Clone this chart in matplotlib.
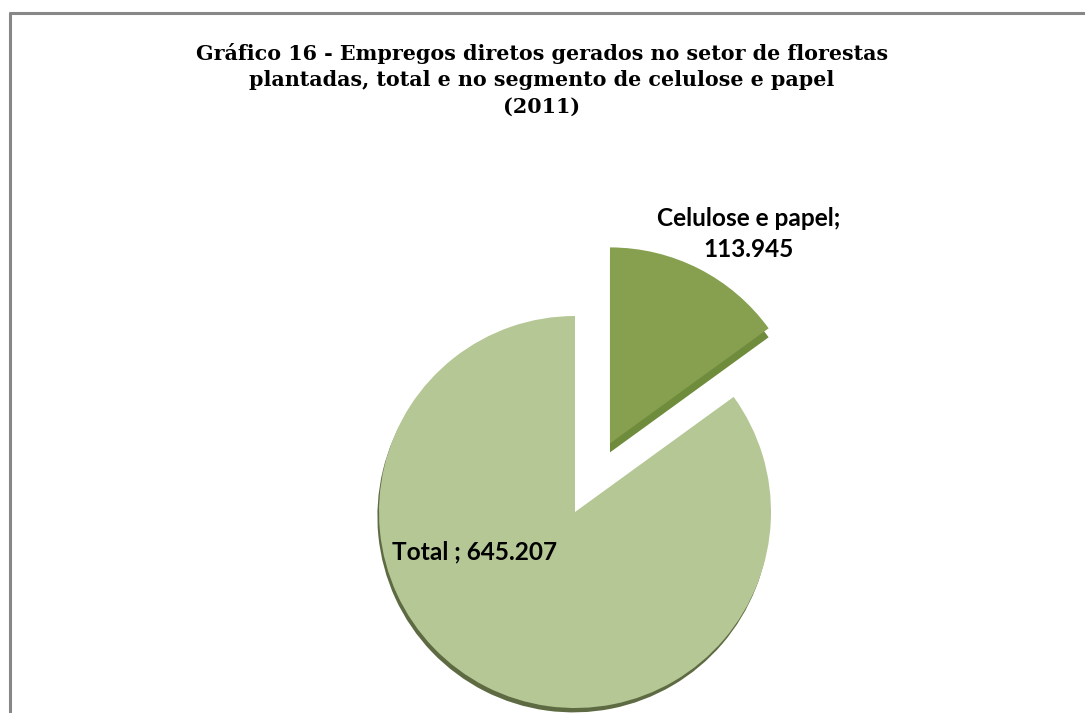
import matplotlib
matplotlib.use("Agg")
import matplotlib.pyplot as plt
from matplotlib.lines import Line2D

# data
categories = ["Celulose e papel", "Total "]
values = [113945, 645207]
value_labels = ["113.945", "645.207"]
title = ("Gráfico 16 - Empregos diretos gerados no setor de florestas\n"
         "plantadas, total e no segmento de celulose e papel\n"
         "(2011)")

W, H = 1085, 713
fig = plt.figure(figsize=(W / 100, H / 100), dpi=100)
fig.patch.set_facecolor("white")

# frame (top and left only)
border = "#878787"
fig.add_artist(Line2D([9 / W, 1.0], [1 - 12.5 / H, 1 - 12.5 / H], color=border, lw=2.2,
                      transform=fig.transFigure, solid_capstyle="butt"))
fig.add_artist(Line2D([9.5 / W, 9.5 / W], [1 - 11.5 / H, 0.0], color=border, lw=2.2,
                      transform=fig.transFigure, solid_capstyle="butt"))

fig.text(542 / W, 1 - 80 / H, title, ha="center", va="center", family="DejaVu Serif",
         fontweight="bold", fontsize=14.9, linespacing=1.42)

# pie axes: square, 200 px per unit, pie centre at (575, 512) px
ax = fig.add_axes([275 / W, (201 - 300) / H, 600 / W, 600 / H])
r = 0.98
explode = [0.385, 0]
kw = dict(startangle=90, counterclock=False, explode=explode, radius=r,
          wedgeprops=dict(linewidth=0))

# fake 3d depth / shadow
ax.pie(values, colors=["none", "#5E6A42"], center=(-0.008, -0.022), **kw)
ax.pie(values, colors=["#6F8B3C", "none"], center=(0.0, -0.045), **kw)
ax.pie(values, colors=["#86A050", "#B5C795"], **kw)

ax.set_xlim(-1.5, 1.5)
ax.set_ylim(-1.5, 1.5)
ax.set_aspect("equal")
ax.axis("off")

fig.text(749 / W, 1 - 234 / H, categories[0] + ";\n" + value_labels[0], ha="center",
         va="center", family="Lato", fontweight="bold", fontsize=17.6, linespacing=1.45)
fig.text(392 / W, 1 - 552 / H, categories[1] + "; " + value_labels[1], ha="left",
         va="center", family="Lato", fontweight="bold", fontsize=17.6)

fig.savefig("out.png", dpi=100, facecolor="white")
